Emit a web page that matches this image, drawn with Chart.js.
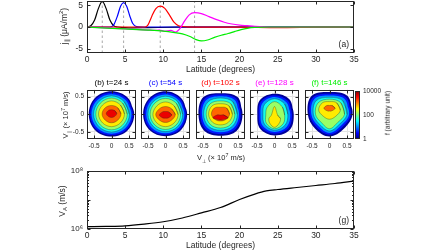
<!DOCTYPE html>
<html>
<head>
<meta charset="utf-8">
<script src="https://cdn.jsdelivr.net/npm/chart.js@4.4.0/dist/chart.umd.min.js"></script>
<style>
  html, body { margin: 0; padding: 0; background: #fff; }
  body { width: 448px; height: 252px; position: relative; overflow: hidden; font-family: "Liberation Sans", Arial, sans-serif; color: #262626; }
  canvas { position: absolute; }
  .lbl { position: absolute; white-space: nowrap; line-height: 1; transform: translate(-50%, -50%) rotate(-90deg); }
  .flat { transform: translate(-50%, -50%); }
  .lbl sub, .lbl sup { font-size: 70%; line-height: 0; }
</style>
</head>
<body>
<canvas id="cA" style="left:0;top:0" width="360" height="76"></canvas>
<canvas id="cH0" style="left:65px;top:78px" width="79" height="77"></canvas>
<canvas id="cH1" style="left:119px;top:78px" width="79" height="77"></canvas>
<canvas id="cH2" style="left:174px;top:78px" width="79" height="77"></canvas>
<canvas id="cH3" style="left:228px;top:78px" width="79" height="77"></canvas>
<canvas id="cH4" style="left:283px;top:78px" width="79" height="77"></canvas>
<canvas id="cBar" style="left:350px;top:78px" width="50" height="77"></canvas>
<canvas id="cG" style="left:0;top:160px" width="360" height="92"></canvas>

<div class="lbl" style="left:64px;top:26px;font-size:8.5px">j<sub>∥</sub> (μA/m<sup>2</sup>)</div>
<div class="lbl" style="left:66px;top:115px;font-size:7.5px">V<sub>∥</sub> (× 10<sup>7</sup> m/s)</div>
<div class="lbl flat" style="left:221px;top:158px;font-size:7.5px">V<sub>⊥</sub> (× 10<sup>7</sup> m/s)</div>
<div class="lbl" style="left:388px;top:113px;font-size:6.5px">f (arbitrary unit)</div>
<div class="lbl" style="left:62px;top:201px;font-size:8.5px">V<sub>A</sub> (m/s)</div>

<script>
// panel (a): field-aligned current vs latitude, one curve per snapshot
const latTicks = [0, 5, 10, 15, 20, 25, 30, 35];
const jTicks = [-5, 0, 5];
const peakLat = [2.0, 4.8, 9.6, 14.1];

const lat24 = [0, 0.5, 1.0, 1.5, 2.0, 2.5, 3.0, 3.5, 4.0, 5, 6, 8, 12, 20, 35];
const j24 = [0, 0.3, 1.6, 4.3, 5.9, 4.3, 1.6, 0.3, 0, -0.15, -0.2, -0.15, -0.05, 0, 0];
const lat54 = [0, 3.0, 3.5, 4.0, 4.4, 4.8, 5.2, 5.6, 6.0, 6.5, 8, 13, 20, 35];
const j54 = [0, 0, 0.5, 2.6, 4.8, 5.6, 4.8, 2.6, 0.8, 0.1, 0, 0, 0, 0];
const lat102 = [0, 7.6, 8.0, 8.5, 9.0, 9.6, 10.2, 10.8, 11.4, 12.0, 13, 20, 25, 30, 35];
const j102 = [0, 0, 0.5, 2.5, 4.2, 4.8, 4.3, 2.8, 1.1, 0.3, 0.05, -0.05, -0.15, -0.05, 0];
const lat128 = [0, 5, 7, 8, 8.8, 9.5, 10.2, 11.0, 11.6, 12.2, 12.8, 13.4, 14.1, 15, 16, 17, 18, 19, 20, 21, 22, 24, 35];
const j128 = [0, -0.45, -0.6, -0.7, -0.8, -0.7, -1.0, -0.8, -1.15, -0.3, 1.4, 2.8, 3.3, 3.1, 2.4, 1.7, 1.1, 0.7, 0.45, 0.3, 0.15, 0, 0];
const lat146 = [0, 2, 5, 8, 10, 11.5, 12.5, 13.5, 14.3, 15, 15.8, 16.7, 17.6, 18.5, 19.4, 20.2, 21, 22, 24, 35];
const j146 = [0, -0.2, -0.45, -0.7, -0.95, -1.3, -1.6, -2.2, -2.9, -3.2, -3.0, -2.4, -1.9, -1.5, -1.0, -0.6, -0.3, -0.1, 0, 0];

const snapTitles = ['(b) t=24 s', '(c) t=54 s', '(d) t=102 s', '(e) t=128 s', '(f) t=146 s'];
const snapColors = ['#000000', '#0000ff', '#ff0000', '#ff00ff', '#00ee00'];

// panels (b)-(f): contours of f, radius at each angle, per level
const fLevels = [1, 3, 10, 30, 100, 300, 1000, 3000];
const contourAngles = [0, 45, 90, 135, 180, 225, 270, 315];
const vTicks = [-0.5, 0, 0.5];
const cbTicks = [1, 100, 10000];

const bCenterY = [0, 0, 0, 0, 0, 0.01, 0.01, 0.02];
const bRadii = [
  [0.65, 0.66, 0.65, 0.66, 0.65, 0.65, 0.63, 0.65],
  [0.61, 0.62, 0.61, 0.62, 0.61, 0.61, 0.59, 0.61],
  [0.57, 0.57, 0.57, 0.57, 0.57, 0.56, 0.55, 0.56],
  [0.51, 0.51, 0.52, 0.51, 0.51, 0.50, 0.50, 0.50],
  [0.45, 0.45, 0.46, 0.45, 0.45, 0.44, 0.44, 0.44],
  [0.37, 0.36, 0.37, 0.36, 0.37, 0.36, 0.36, 0.36],
  [0.27, 0.25, 0.24, 0.25, 0.27, 0.25, 0.25, 0.25],
  [0.15, 0.125, 0.11, 0.125, 0.15, 0.12, 0.11, 0.12]
];
const cCenterY = [0, 0, 0, 0, 0, -0.01, -0.01, -0.02];
const cRadii = [
  [0.62, 0.64, 0.65, 0.65, 0.64, 0.64, 0.62, 0.63],
  [0.58, 0.60, 0.61, 0.61, 0.60, 0.60, 0.58, 0.59],
  [0.54, 0.55, 0.56, 0.56, 0.55, 0.55, 0.54, 0.54],
  [0.49, 0.50, 0.51, 0.50, 0.50, 0.49, 0.49, 0.49],
  [0.43, 0.44, 0.45, 0.44, 0.44, 0.43, 0.43, 0.43],
  [0.36, 0.35, 0.36, 0.35, 0.36, 0.34, 0.34, 0.34],
  [0.28, 0.24, 0.23, 0.24, 0.28, 0.23, 0.22, 0.23],
  [0.18, 0.125, 0.10, 0.125, 0.18, 0.115, 0.09, 0.115]
];
const dCenterY = [0, 0, 0, 0, 0, 0, 0, -0.1];
const dRadii = [
  [0.63, 0.69, 0.60, 0.69, 0.63, 0.66, 0.61, 0.66],
  [0.58, 0.63, 0.56, 0.63, 0.58, 0.60, 0.56, 0.60],
  [0.53, 0.57, 0.51, 0.57, 0.53, 0.54, 0.51, 0.54],
  [0.48, 0.50, 0.46, 0.50, 0.48, 0.48, 0.45, 0.48],
  [0.41, 0.42, 0.38, 0.42, 0.41, 0.41, 0.39, 0.41],
  [0.34, 0.34, 0.30, 0.34, 0.34, 0.32, 0.30, 0.32],
  [0.26, 0.25, 0.20, 0.25, 0.26, 0.21, 0.19, 0.21],
  [0.22, 0.12, 0.08, 0.12, 0.22, 0.08, 0.06, 0.08]
];
const eCenterY = [0, 0, 0, 0, -0.02, -0.12];
const eRadii = [
  [0.55, 0.60, 0.58, 0.58, 0.49, 0.58, 0.60, 0.62],
  [0.50, 0.54, 0.54, 0.53, 0.45, 0.53, 0.55, 0.56],
  [0.45, 0.48, 0.49, 0.47, 0.40, 0.47, 0.50, 0.50],
  [0.38, 0.41, 0.44, 0.40, 0.33, 0.40, 0.45, 0.43],
  [0.29, 0.32, 0.38, 0.30, 0.25, 0.33, 0.39, 0.35],
  [0.17, 0.13, 0.34, 0.13, 0.16, 0.19, 0.25, 0.19]
];
const fCenterY = [0, 0, 0, 0, 0, 0.12, 0.17];
const fRadii = [
  [0.66, 0.73, 0.63, 0.73, 0.62, 0.58, 0.63, 0.58],
  [0.61, 0.67, 0.58, 0.67, 0.57, 0.52, 0.58, 0.52],
  [0.56, 0.61, 0.53, 0.61, 0.52, 0.46, 0.53, 0.46],
  [0.50, 0.54, 0.48, 0.54, 0.46, 0.40, 0.47, 0.40],
  [0.43, 0.46, 0.43, 0.46, 0.40, 0.33, 0.41, 0.33],
  [0.31, 0.29, 0.24, 0.29, 0.31, 0.25, 0.26, 0.25],
  [0.16, 0.11, 0.08, 0.11, 0.16, 0.10, 0.08, 0.10]
];

// panel (g): Alfven speed
const latVA = [0, 2.5, 5, 7.5, 10, 12.5, 15, 17.5, 20, 22, 23.5, 25, 27.5, 30, 32.5, 35];
const vA = [1.2e6, 1.23e6, 1.29e6, 1.48e6, 1.78e6, 2.4e6, 3.6e6, 5.5e6, 1.04e7, 1.6e7, 2.05e7, 2.3e7, 2.7e7, 3.16e7, 3.7e7, 4.5e7];

const FONT = '"Liberation Sans", Arial, sans-serif';
Chart.defaults.font.family = FONT;
Chart.defaults.font.size = 8.5;
Chart.defaults.color = '#262626';

function jet(t) {
  const c = v => Math.round(255 * Math.max(0, Math.min(1, v)));
  return `rgb(${c(1.5 - Math.abs(4 * t - 3))},${c(1.5 - Math.abs(4 * t - 2))},${c(1.5 - Math.abs(4 * t - 1))})`;
}

// matlab-like box with inward ticks + panel letter
const frame = {
  id: 'frame',
  afterDatasetsDraw(chart, args, opts) {
    const { ctx, chartArea: a, scales } = chart;
    const L = Math.round(a.left) + 0.5, R = Math.round(a.right) - 0.5;
    const T = Math.round(a.top) + 0.5, B = Math.round(a.bottom) - 0.5;
    ctx.save();
    ctx.strokeStyle = '#262626';
    ctx.lineWidth = 1;
    ctx.beginPath();
    const xs = scales.x, ys = scales.y;
    if (opts.xTicks !== false) {
      xs.ticks.forEach(t => {
        const p = Math.round(xs.getPixelForValue(t.value)) + 0.5;
        ctx.moveTo(p, B); ctx.lineTo(p, B - 3);
        ctx.moveTo(p, T); ctx.lineTo(p, T + 3);
      });
    }
    if (opts.yTicks !== false) {
      ys.ticks.forEach(t => {
        const lg = Math.log10(Math.abs(t.value));
        const len = (ys.type === 'logarithmic' && Math.abs(lg - Math.round(lg)) > 1e-6) ? 1.5 : 3;
        const p = Math.round(ys.getPixelForValue(t.value)) + 0.5;
        ctx.moveTo(L, p); ctx.lineTo(L + len, p);
        ctx.moveTo(R, p); ctx.lineTo(R - len, p);
      });
    }
    ctx.stroke();
    ctx.strokeRect(L, T, R - L, B - T);
    if (opts.label) {
      ctx.fillStyle = '#262626';
      ctx.font = '8.5px ' + FONT;
      ctx.textAlign = 'right';
      ctx.textBaseline = 'middle';
      ctx.fillText(opts.label, a.right - 5, a.bottom - 8);
    }
    ctx.restore();
  }
};

const fixTicks = vals => ax => { ax.ticks = vals.map(v => ({ value: v })); };
// fix the axis box size and drop the label overhang padding chart.js adds
const fitH = h => ax => { ax.height = h; ax.paddingLeft = 0; ax.paddingRight = 0; };
const fitW = w => ax => { ax.width = w; ax.paddingTop = 0; ax.paddingBottom = 0; };
const plain = { legend: { display: false }, tooltip: { enabled: false } };
const noGrid = { display: false, drawTicks: false };

// ---- panel (a)
const curves = [
  { x: lat24, y: j24 }, { x: lat54, y: j54 }, { x: lat102, y: j102 },
  { x: lat128, y: j128 }, { x: lat146, y: j146 }
];
new Chart(document.getElementById('cA'), {
  type: 'line',
  data: {
    datasets: [
      ...peakLat.map(p => ({
        data: [{ x: p, y: -6 }, { x: p, y: 6 }],
        borderColor: '#a8a8a8', borderDash: [2.5, 2.5], borderWidth: 1, order: 10
      })),
      ...curves.map((c, i) => ({
        data: c.x.map((x, k) => ({ x, y: c.y[k] })),
        borderColor: snapColors[i], borderWidth: 1.2,
        cubicInterpolationMode: 'monotone', order: 5 - i
      }))
    ]
  },
  options: {
    responsive: false, animation: false, devicePixelRatio: 1,
    layout: { padding: { left: 40, right: 6, top: 1, bottom: 0 } },
    elements: { point: { radius: 0 } },
    plugins: { ...plain, frame: { label: '(a)' } },
    scales: {
      x: {
        type: 'linear', min: 0, max: 35,
        afterBuildTicks: fixTicks(latTicks), afterFit: fitH(23),
        grid: noGrid, border: { display: false },
        ticks: { padding: 2, maxRotation: 0, autoSkip: false },
        title: { display: true, text: 'Latitude (degrees)', padding: { top: 0, bottom: 1 } }
      },
      y: {
        min: -6, max: 6,
        afterBuildTicks: fixTicks(jTicks), afterFit: fitW(47),
        grid: noGrid, border: { display: false },
        ticks: { padding: 4 }
      }
    }
  },
  plugins: [frame]
});

// ---- panels (b)-(f)
function ring(cy, radii) {
  const pts = contourAngles.map((deg, j) => {
    const a = deg * Math.PI / 180;
    return { x: radii[j] * Math.cos(a), y: cy + radii[j] * Math.sin(a) };
  });
  pts.push(pts[0], pts[1]);
  return pts;
}

const snaps = [
  { cy: bCenterY, r: bRadii }, { cy: cCenterY, r: cRadii }, { cy: dCenterY, r: dRadii },
  { cy: eCenterY, r: eRadii }, { cy: fCenterY, r: fRadii }
];
snaps.forEach((s, i) => {
  new Chart(document.getElementById('cH' + i), {
    type: 'line',
    data: {
      datasets: s.r.map((radii, k) => ({
        data: ring(s.cy[k], radii),
        fill: 'shape',
        backgroundColor: jet((Math.log10(fLevels[k]) + 0.1) / 4),
        borderColor: k >= 3 ? 'rgba(30,30,30,0.55)' : 'rgba(0,0,0,0)',
        borderWidth: k >= 3 ? 0.6 : 0,
        tension: 0.37,
        order: 50 - k
      }))
    },
    options: {
      responsive: false, animation: false, devicePixelRatio: 1,
      layout: { padding: { left: 0, right: 8, top: 0, bottom: 0 } },
      elements: { point: { radius: 0 } },
      plugins: {
        ...plain,
        title: {
          display: true, text: snapTitles[i], color: snapColors[i], fullSize: false,
          font: { size: 8, weight: 'normal' }, padding: { top: 0, bottom: 2 }
        },
        frame: {}
      },
      scales: {
        x: {
          type: 'linear', min: -0.7, max: 0.7,
          afterBuildTicks: fixTicks(vTicks), afterFit: fitH(16),
          grid: { color: '#e3e3e3', drawTicks: false }, border: { display: false },
          ticks: { padding: 3, maxRotation: 0, autoSkip: false, font: { size: 6.5 } }
        },
        y: {
          min: -0.7, max: 0.7,
          afterBuildTicks: fixTicks(vTicks), afterFit: fitW(22),
          grid: { color: '#e3e3e3', drawTicks: false }, border: { display: false },
          ticks: { display: i === 0, padding: 3, font: { size: 6.5 } }
        }
      }
    },
    plugins: [frame]
  });
});

// ---- colorbar
new Chart(document.getElementById('cBar'), {
  type: 'bar',
  data: {
    labels: [''],
    datasets: [{
      data: [[cbTicks[0], cbTicks[cbTicks.length - 1]]],
      barPercentage: 1, categoryPercentage: 1, borderWidth: 0,
      backgroundColor: ctx => {
        const a = ctx.chart.chartArea;
        if (!a) return 'transparent';
        const g = ctx.chart.ctx.createLinearGradient(0, a.bottom, 0, a.top);
        for (let i = 0; i <= 16; i++) g.addColorStop(i / 16, jet(i / 16));
        return g;
      }
    }]
  },
  options: {
    responsive: false, animation: false, devicePixelRatio: 1,
    layout: { padding: { left: 5, right: 0, top: 13, bottom: 16 } },
    plugins: { ...plain, frame: { xTicks: false, yTicks: false } },
    scales: {
      x: { display: false },
      y: {
        type: 'logarithmic', position: 'right', min: 1, max: 10000,
        afterBuildTicks: fixTicks(cbTicks), afterFit: fitW(40),
        grid: noGrid, border: { display: false },
        ticks: { padding: 3, font: { size: 6.5 }, callback: v => String(v) }
      }
    }
  },
  plugins: [frame]
});

// ---- panel (g)
new Chart(document.getElementById('cG'), {
  type: 'line',
  data: {
    datasets: [{
      data: latVA.map((x, k) => ({ x, y: vA[k] })),
      borderColor: '#000000', borderWidth: 1.2, cubicInterpolationMode: 'monotone'
    }]
  },
  options: {
    responsive: false, animation: false, devicePixelRatio: 1,
    layout: { padding: { left: 40, right: 6, top: 11, bottom: 0 } },
    elements: { point: { radius: 0 } },
    plugins: { ...plain, frame: { label: '(g)' } },
    scales: {
      x: {
        type: 'linear', min: 0, max: 35,
        afterBuildTicks: fixTicks(latTicks), afterFit: fitH(23),
        grid: noGrid, border: { display: false },
        ticks: { padding: 2, maxRotation: 0, autoSkip: false },
        title: { display: true, text: 'Latitude (degrees)', padding: { top: 0, bottom: 1 } }
      },
      y: {
        type: 'logarithmic', min: 1e6, max: 1e8,
        afterFit: fitW(47),
        grid: noGrid, border: { display: false },
        ticks: {
          padding: 4, autoSkip: false, font: { size: 8 },
          callback: v => {
            const lg = Math.log10(v);
            if (Math.abs(lg - 6) < 1e-9) return '10⁶';
            if (Math.abs(lg - 8) < 1e-9) return '10⁸';
            return '';
          }
        }
      }
    }
  },
  plugins: [frame]
});
</script>
</body>
</html>
